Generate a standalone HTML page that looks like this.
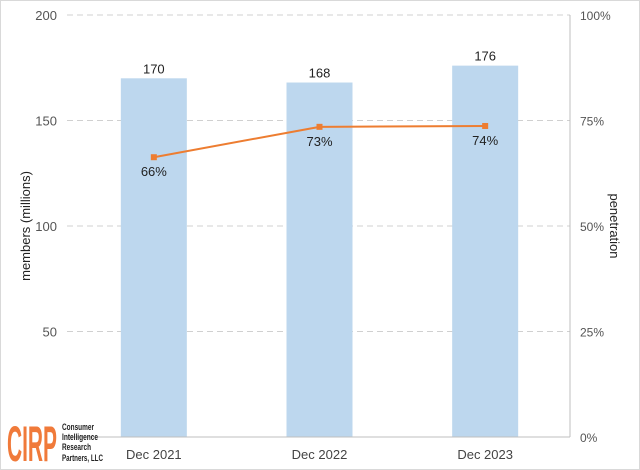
<!DOCTYPE html>
<html><head><meta charset="utf-8"><style>
body{margin:0;background:#fff}
svg{display:block;font-family:"Liberation Sans",sans-serif}
</style></head><body>
<svg width="640" height="470" viewBox="0 0 640 470">
<rect x="0.5" y="0.5" width="639" height="469" fill="#fff" stroke="#d9d9d9"/>
<g id="grid"></g><g id="bars"></g><g id="line"></g><g id="axes"></g>
<text transform="translate(30,226) rotate(-90)" text-anchor="middle" font-size="13" fill="#222">members (millions)</text>
<text transform="translate(610,226) rotate(90)" text-anchor="middle" font-size="13" fill="#222">penetration</text>
<g>
<text x="7" y="461" font-size="50" font-weight="bold" fill="#f07a3a" textLength="50" lengthAdjust="spacingAndGlyphs" font-family="Liberation Sans Narrow,Liberation Sans,sans-serif">CIRP</text>
<text font-size="9.5" font-weight="bold" fill="#222" font-family="Liberation Sans Narrow,Liberation Sans,sans-serif">
<tspan x="62" y="430" textLength="32" lengthAdjust="spacingAndGlyphs">Consumer</tspan><tspan x="62" y="440" textLength="36" lengthAdjust="spacingAndGlyphs">Intelligence</tspan><tspan x="62" y="450" textLength="29" lengthAdjust="spacingAndGlyphs">Research</tspan><tspan x="62" y="461" textLength="41" lengthAdjust="spacingAndGlyphs">Partners, LLC</tspan></text>
</g>
</svg>
<script>
const categories=["Dec 2021","Dec 2022","Dec 2023"];
const members=[170,168,176];
const penetration=[0.663,0.735,0.737];
const penLabels=["66%","73%","74%"];
const leftTicks=[0,50,100,150,200];
const rightTicks=[0,0.25,0.5,0.75,1];
const rightTickLabels=["0%","25%","50%","75%","100%"];
const NS="http://www.w3.org/2000/svg";
const L=67,R=570,T=15,B=437;
const XL=71,XR=568;
const yL=v=>B-(v/200)*(B-T);
const yR=v=>B-v*(B-T);
const band=(XR-XL)/categories.length;
const xC=i=>XL+band*(i+0.5);
function mk(tag,attrs,parent,txt){const e=document.createElementNS(NS,tag);for(const k in attrs)e.setAttribute(k,attrs[k]);if(txt!=null)e.textContent=txt;document.getElementById(parent).appendChild(e);return e;}
leftTicks.forEach((t,i)=>{
 if(t>0){const g=mk('line',{x1:L,x2:R,y1:yL(t),y2:yL(t),stroke:'#d0d0d0','stroke-dasharray':'6,4'},'grid');
 
 }
 const lt=mk('text',{x:L-10,y:yL(t)+5,'text-anchor':'end','font-size':13,fill:'#555'},'axes',t===0?'':t);
 
 
});
rightTicks.forEach((t,i)=>{
 const rt=mk('text',{x:R+10,y:yR(t)+5,'font-size':12,fill:'#555'},'axes',rightTickLabels[i]);
 
 
});
const ax=mk('line',{x1:L,x2:R,y1:B,y2:B,stroke:'#bfbfbf'},'axes');


const ar=mk('line',{x1:R,x2:R,y1:T,y2:B,stroke:'#bfbfbf'},'axes');


const bw=66;
categories.forEach((c,i)=>{
 const b=mk('rect',{x:xC(i)-bw/2,y:yL(members[i]),width:bw,height:B-yL(members[i]),fill:'#bdd7ee'},'bars');
 
 
 const v=mk('text',{x:xC(i),y:yL(members[i])-5,'text-anchor':'middle','font-size':13,fill:'#222'},'bars',members[i]);
 
 
 const xl=mk('text',{x:xC(i),y:B+22,'text-anchor':'middle','font-size':13,fill:'#444'},'axes',c);
 
 
});
const pts=penetration.map((p,i)=>xC(i)+','+yR(p)).join(' ');
const pl=mk('polyline',{points:pts,fill:'none',stroke:'#ed7d31','stroke-width':2},'line');


penetration.forEach((p,i)=>{
 const m=mk('rect',{x:xC(i)-3,y:yR(p)-3,width:6,height:6,fill:'#ed7d31'},'line');
 
 
 const t=mk('text',{x:xC(i),y:yR(p)+19,'text-anchor':'middle','font-size':13,fill:'#222'},'line',penLabels[i]);
 
 
});
</script>
</body></html>
